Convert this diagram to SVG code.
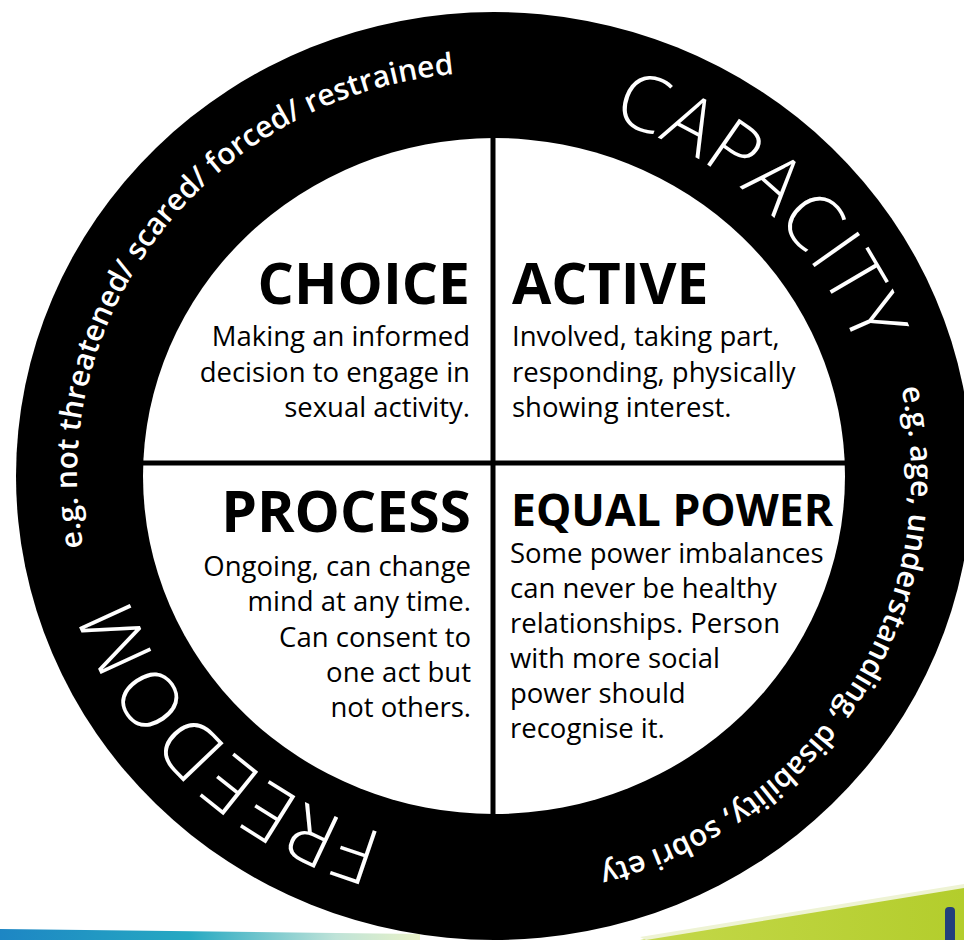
<svg xmlns="http://www.w3.org/2000/svg" width="964" height="940" viewBox="0 0 964 940">
  <defs>
    <style>
      .head { font-family: "Open Sans", "Noto Sans", "DejaVu Sans", sans-serif; font-weight: 700; fill: #000; }
      .body { font-family: "Open Sans", "Noto Sans", "DejaVu Sans", sans-serif; font-size: 27.5px; fill: #000; }
      .end { text-anchor: end; }
      .ring-small { font-family: "Open Sans", "Noto Sans", "DejaVu Sans", sans-serif; font-size: 30px; font-weight: 600; fill: #fff; }
      .ring-big { font-family: "Open Sans", "Noto Sans", "DejaVu Sans", sans-serif; font-size: 78px; font-weight: 300; letter-spacing: 1.5px; fill: #fff; }
      .divider { stroke: #000; stroke-width: 5; }
    </style>
    <linearGradient id="bandBlue" x1="0" y1="0" x2="1" y2="0">
      <stop offset="0" stop-color="#1d86c4"/>
      <stop offset="0.45" stop-color="#26a9c2"/>
      <stop offset="0.8" stop-color="#bfe3d8"/>
      <stop offset="1" stop-color="#e9f2c8"/>
    </linearGradient>
    <linearGradient id="bandGreen" x1="0" y1="0" x2="1" y2="0">
      <stop offset="0" stop-color="#c4d84a"/>
      <stop offset="1" stop-color="#b3cd2c"/>
    </linearGradient>
    <!-- baseline paths for the lettering around the ring (all run clockwise) -->
    <path id="arcFreedomNote" d="M 653.6 849.3 A 417 404 0 1 1 907.4 528.7"/>
    <path id="arcCapacityNote" d="M 295.7 120.6 A 417 404 0 1 1 77.2 464.7"/>
    <path id="arcCapacity" d="M 122 579.1 A 387 373 0 1 1 400.4 838.1"/>
    <path id="arcFreedom" d="M 866 372.9 A 387 373 0 1 1 587.6 113.9"/>
  </defs>

  <rect width="964" height="940" fill="#fff"/>

  <!-- coloured strip along the bottom edge -->
  <g id="bottom-strip">
    <polygon points="0,929 420,934 420,940 0,940" fill="url(#bandBlue)"/>
    <polygon points="640,940 964,887 964,940" fill="url(#bandGreen)"/>
    <polygon points="640,937 964,884 964,888 646,940" fill="#eef3d4"/>
    <rect x="945" y="907" width="10" height="36" rx="4" fill="#233f7c"/>
  </g>

  <!-- black ring with white centre -->
  <g id="ring">
    <ellipse cx="494" cy="476" rx="478" ry="464" fill="#000"/>
    <ellipse cx="494" cy="476" rx="351" ry="338" fill="#fff"/>
  </g>

  <!-- quadrant dividers -->
  <g id="connectors">
    <line class="divider" x1="493" y1="130" x2="493" y2="820"/>
    <line class="divider" x1="140" y1="463" x2="848" y2="463"/>
  </g>

  <g id="choice">
    <text class="head end" x="470" y="304" font-size="57">CHOICE</text>
    <text class="body end" x="470" y="346">Making an informed</text>
    <text class="body end" x="470" y="382">decision to engage in</text>
    <text class="body end" x="470" y="417">sexual activity.</text>
  </g>

  <g id="active">
    <text class="head" x="512" y="304" font-size="57">ACTIVE</text>
    <text class="body" x="512" y="346">Involved, taking part,</text>
    <text class="body" x="512" y="382">responding, physically</text>
    <text class="body" x="512" y="417">showing interest.</text>
  </g>

  <g id="process">
    <text class="head end" x="471" y="532" font-size="57">PROCESS</text>
    <text class="body end" x="471" y="576">Ongoing, can change</text>
    <text class="body end" x="471" y="611">mind at any time.</text>
    <text class="body end" x="471" y="647">Can consent to</text>
    <text class="body end" x="471" y="682">one act but</text>
    <text class="body end" x="471" y="717">not others.</text>
  </g>

  <g id="equal-power">
    <text class="head" x="511" y="526" font-size="44.5">EQUAL POWER</text>
    <text class="body" x="510" y="563">Some power imbalances</text>
    <text class="body" x="510" y="598">can never be healthy</text>
    <text class="body" x="510" y="633">relationships. Person</text>
    <text class="body" x="510" y="668">with more social</text>
    <text class="body" x="510" y="703">power should</text>
    <text class="body" x="510" y="738">recognise it.</text>
  </g>

  <g id="capacity">
    <text class="ring-big"><textPath href="#arcCapacity" startOffset="50%" text-anchor="middle">CAPACITY</textPath></text>
    <text class="ring-small"><textPath href="#arcCapacityNote" startOffset="50%" text-anchor="middle">e.g. age, understanding, disability, sobri ety</textPath></text>
  </g>

  <g id="freedom">
    <text class="ring-big"><textPath href="#arcFreedom" startOffset="50%" text-anchor="middle">FREEDOM</textPath></text>
    <text class="ring-small"><textPath href="#arcFreedomNote" startOffset="50%" text-anchor="middle">e.g. not threatened/ scared/ forced/ restrained</textPath></text>
  </g>
</svg>
